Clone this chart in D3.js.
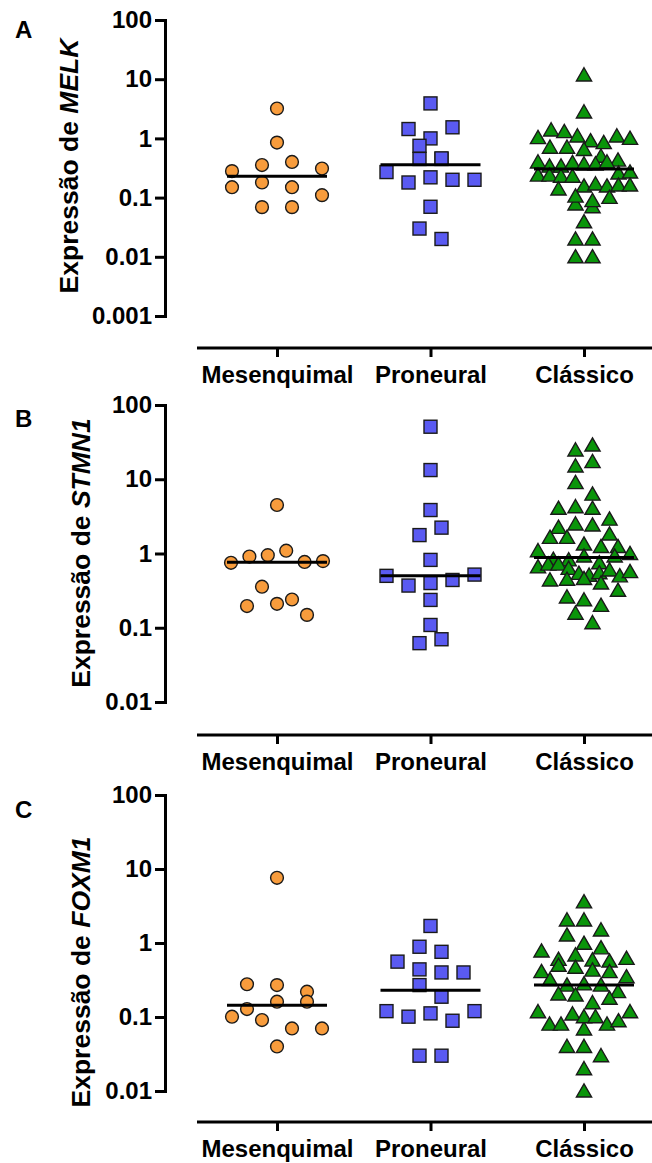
<!DOCTYPE html>
<html>
<head>
<meta charset="utf-8">
<script src="https://cdn.jsdelivr.net/npm/d3@7"></script>
<style>
  body { margin: 0; background: #fff; }
  svg { display: block; }
</style>
</head>
<body>
<svg id="chart" width="652" height="1163"></svg>
<script>
// groups on the x axis
const categories = ['Mesenquimal', 'Proneural', 'Clássico'];
const panelLetters = ['A', 'B', 'C'];
const genes = ['MELK', 'STMN1', 'FOXM1'];

const ticksMelk = [0.001, 0.01, 0.1, 1, 10, 100];
const tickLabelsMelk = ['0.001', '0.01', '0.1', '1', '10', '100'];
const ticksOther = [0.01, 0.1, 1, 10, 100];
const tickLabelsOther = ['0.01', '0.1', '1', '10', '100'];

// MELK
const melkMesenquimal = [3.2, 0.85, 0.28, 0.355, 0.40, 0.31, 0.15, 0.18, 0.15, 0.11, 0.069, 0.069];
const melkProneural = [3.9, 1.44, 1.0, 1.54, 0.75, 0.45, 0.45, 0.46, 0.27, 0.18, 0.22, 0.20, 0.20, 0.070, 0.030, 0.020];
const melkClassico = [11.8, 2.8,
	1.03, 1.39, 1.30, 1.10, 0.91, 0.85, 1.10, 1.0,
	0.71, 0.71, 0.65,
	0.40, 0.50, 0.34, 0.43, 0.34, 0.39, 0.37, 0.37, 0.40,
	0.24, 0.26, 0.24, 0.23, 0.27, 0.23,
	0.157, 0.17, 0.157, 0.163, 0.163, 0.14,
	0.078, 0.106, 0.070, 0.089, 0.101,
	0.039, 0.020, 0.020, 0.010, 0.010];

// STMN1
const stmn1Mesenquimal = [4.5, 0.75, 0.91, 0.95, 1.09, 0.77, 0.79, 0.357, 0.24, 0.196, 0.21, 0.149];
const stmn1Proneural = [51, 13.3, 3.85, 1.77, 2.23, 0.82, 0.50, 0.37, 0.40, 0.44, 0.52, 0.237, 0.109, 0.062, 0.070];
const stmn1Classico = [24.8, 28.9, 15.1, 17.3, 9.0, 6.3, 4.06, 4.27, 4.06, 2.9,
	2.25, 2.5, 2.42, 1.83, 1.65, 1.65, 1.34, 1.24, 1.24, 1.09,
	0.66, 0.836, 0.82, 0.72, 0.925, 0.75, 0.925, 1.0, 0.72, 0.63,
	0.54, 0.44, 0.45, 0.51, 0.55, 0.60, 0.50, 0.57, 0.46,
	0.40, 0.32, 0.26, 0.237, 0.20, 0.157, 0.117];

// FOXM1
const foxm1Mesenquimal = [7.6, 0.277, 0.27, 0.22, 0.128, 0.161, 0.161, 0.101, 0.091, 0.070, 0.070, 0.040];
const foxm1Proneural = [1.70, 0.89, 0.76, 0.56, 0.44, 0.40, 0.40, 0.27, 0.188, 0.12, 0.101, 0.112, 0.089, 0.12, 0.030, 0.030];
const foxm1Classico = [3.6, 2.05, 2.05, 1.5, 1.28, 0.99, 0.86, 0.78,
	0.60, 0.69, 0.59, 0.57, 0.62,
	0.41, 0.50, 0.47, 0.43, 0.41,
	0.35, 0.32, 0.27, 0.28, 0.27,
	0.22, 0.205, 0.198, 0.156, 0.179,
	0.118, 0.080, 0.080, 0.11, 0.069, 0.101, 0.101, 0.080, 0.089, 0.118,
	0.040, 0.040, 0.030, 0.020, 0.010];

const panels = [
	{ gene: genes[0], letter: panelLetters[0], series: [melkMesenquimal, melkProneural, melkClassico],
	  ticks: ticksMelk, tickLabels: tickLabelsMelk, top: 20, bottom: 316, axisY: 348, titleX: 78, titleY: 166, letterY: 38 },
	{ gene: genes[1], letter: panelLetters[1], series: [stmn1Mesenquimal, stmn1Proneural, stmn1Classico],
	  ticks: ticksOther, tickLabels: tickLabelsOther, top: 405, bottom: 702, axisY: 735, titleX: 90, titleY: 553, letterY: 427 },
	{ gene: genes[2], letter: panelLetters[2], series: [foxm1Mesenquimal, foxm1Proneural, foxm1Classico],
	  ticks: ticksOther, tickLabels: tickLabelsOther, top: 795, bottom: 1091, axisY: 1122, titleX: 90, titleY: 972, letterY: 818 },
];

const font = "'Liberation Sans', Arial, sans-serif";
const axisX0 = 165;
const colors = ['#f89c3c', '#5a5af2', '#0a950a'];
const stroke = '#1a1a1a';
const halfWidth = 46;
// horizontal step between neighbours in a row, per group (triangles overlap like the original)
const maxSteps = [30, 22, 17];
const rowThreshold = 13;

const svg = d3.select('#chart');
svg.append('rect').attr('width', 652).attr('height', 1163).attr('fill', '#fff');

const x = d3.scalePoint().domain(categories).range([277, 584]);

// prism-like column scatter: group points into rows by pixel y, spread each row
function layoutColumn(values, y, cx, maxStep) {
	const pts = values.map((v, i) => ({ v, i, py: y(v) }));
	const sorted = pts.slice().sort((a, b) => a.py - b.py || a.i - b.i);
	const rows = [];
	let row = null;
	sorted.forEach((p) => {
		if (!row || p.py - row.start >= rowThreshold) {
			row = { start: p.py, items: [] };
			rows.push(row);
		}
		row.items.push(p);
	});
	rows.forEach((r) => {
		r.items.sort((a, b) => a.i - b.i);
		const n = r.items.length;
		const step = n > 1 ? Math.min(maxStep, (2 * halfWidth) / (n - 1)) : 0;
		r.items.forEach((p, k) => (p.px = cx + (k - (n - 1) / 2) * step));
	});
	return pts;
}

const triangle = 'M0,-7.2L7.6,6L-7.6,6Z';

panels.forEach((panel) => {
	const g = svg.append('g');
	const y = d3.scaleLog().domain([panel.ticks[0], panel.ticks[panel.ticks.length - 1]]).range([panel.bottom, panel.top]);

	// Y axis
	const axisY = d3.axisLeft(y)
		.tickValues(panel.ticks)
		.tickFormat((d, i) => panel.tickLabels[i])
		.tickSizeInner(10)
		.tickSizeOuter(0)
		.tickPadding(3);
	const gy = g.append('g').attr('transform', `translate(${axisX0},0)`).call(axisY);
	gy.select('.domain').attr('stroke', '#000').attr('stroke-width', 3).attr('stroke-linecap', 'square');
	gy.selectAll('.tick line').attr('stroke', '#000').attr('stroke-width', 3);
	gy.selectAll('.tick text')
		.attr('font-family', font).attr('font-weight', 'bold').attr('font-size', 24).attr('fill', '#000');

	// X axis
	g.append('line')
		.attr('x1', 197).attr('x2', 652)
		.attr('y1', panel.axisY).attr('y2', panel.axisY)
		.attr('stroke', '#000').attr('stroke-width', 3);
	const axisXB = d3.axisBottom(x).tickSize(9).tickPadding(9);
	const gx = g.append('g').attr('transform', `translate(0,${panel.axisY})`).call(axisXB);
	gx.select('.domain').remove();
	gx.selectAll('.tick line').attr('stroke', '#000').attr('stroke-width', 3);
	gx.selectAll('.tick text')
		.attr('font-family', font).attr('font-weight', 'bold').attr('font-size', 24).attr('fill', '#000');

	// Y title
	const title = g.append('text')
		.attr('transform', `translate(${panel.titleX},${panel.titleY}) rotate(-90)`)
		.attr('text-anchor', 'middle')
		.attr('font-family', font).attr('font-weight', 'bold').attr('font-size', 26.5);
	title.append('tspan').text('Expressão de ');
	title.append('tspan').attr('font-style', 'italic').text(panel.gene);

	// panel letter
	g.append('text')
		.attr('x', 15).attr('y', panel.letterY)
		.attr('font-family', font).attr('font-weight', 'bold').attr('font-size', 24)
		.text(panel.letter);

	// points
	panel.series.forEach((values, ci) => {
		const cx = x(categories[ci]);
		const pts = layoutColumn(values, y, cx, maxSteps[ci]);
		const marks = g.append('g')
			.selectAll('.pt')
			.data(pts)
			.join((enter) => {
				if (ci === 0) return enter.append('circle').attr('r', 6.4).attr('cx', (d) => d.px).attr('cy', (d) => d.py);
				if (ci === 1) return enter.append('rect').attr('width', 13).attr('height', 13)
					.attr('x', (d) => d.px - 6.5).attr('y', (d) => d.py - 6.5);
				return enter.append('path').attr('d', triangle).attr('transform', (d) => `translate(${d.px},${d.py})`);
			});
		marks.attr('fill', colors[ci]).attr('stroke', stroke).attr('stroke-width', 1.4);

		// median line
		const med = d3.median(values);
		g.append('line')
			.attr('x1', cx - 50).attr('x2', cx + 50)
			.attr('y1', y(med)).attr('y2', y(med))
			.attr('stroke', '#000').attr('stroke-width', 3);
	});
});
</script>
</body>
</html>
